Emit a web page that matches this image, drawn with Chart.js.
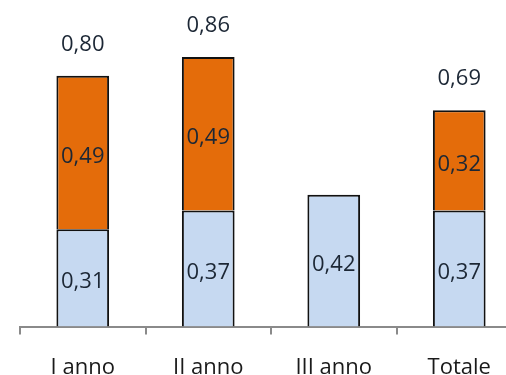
<!DOCTYPE html>
<html>
<head>
<meta charset="utf-8">
<script src="https://cdn.jsdelivr.net/npm/chart.js@4/dist/chart.umd.min.js"></script>
<style>
  html, body { margin: 0; padding: 0; background: #fff; overflow: hidden; }
  #wrap { position: relative; width: 530px; height: 375px; }
</style>
</head>
<body>
<div id="wrap"><canvas id="c"></canvas></div>
<script>
// Categories and stacked series
const categories = ['I anno', 'II anno', 'III anno', 'Totale'];
const baseValues = [0.31, 0.37, 0.42, 0.37];
const topValues = [0.49, 0.49, null, 0.32];

const fmt = v => v.toFixed(2).replace('.', ',');
const LABEL_FONT = '22px "Open Sans", sans-serif';

// Writes segment values inside the bars and stack totals above them
const valueLabels = {
  id: 'valueLabels',
  afterDatasetsDraw(chart) {
    const ctx = chart.ctx;
    ctx.save();
    ctx.font = LABEL_FONT;
    ctx.fillStyle = '#1c2735';
    ctx.textAlign = 'center';
    ctx.textBaseline = 'middle';
    chart.data.datasets.forEach((ds, di) => {
      const meta = chart.getDatasetMeta(di);
      meta.data.forEach((bar, i) => {
        const v = ds.data[i];
        if (v == null) return;
        const { x, y, base } = bar.getProps(['x', 'y', 'base'], true);
        ctx.fillText(fmt(v), x, (y + base) / 2 + 4);
      });
    });
    const yScale = chart.scales.y;
    const topMeta = chart.getDatasetMeta(1);
    categories.forEach((c, i) => {
      if (topValues[i] == null) return;
      const total = baseValues[i] + topValues[i];
      const x = topMeta.data[i].x;
      ctx.fillText(fmt(total), x, yScale.getPixelForValue(total) - 31);
    });
    ctx.restore();
  }
};

new Chart(document.getElementById('c'), {
  type: 'bar',
  data: {
    labels: categories,
    datasets: [
      {
        data: baseValues,
        backgroundColor: '#c6d9f1',
        borderColor: '#111',
        borderWidth: 2,
        barPercentage: 0.42,
        categoryPercentage: 1
      },
      {
        data: topValues,
        backgroundColor: '#e46c0a',
        borderColor: '#111',
        borderWidth: 2,
        barPercentage: 0.42,
        categoryPercentage: 1
      }
    ]
  },
  options: {
    responsive: true,
    maintainAspectRatio: false,
    animation: false,
    layout: { padding: { left: 20, right: 8, top: 13, bottom: 0 } },
    plugins: { legend: { display: false }, tooltip: { enabled: false } },
    scales: {
      x: {
        stacked: true,
        grid: {
          offset: true,
          drawOnChartArea: false,
          drawTicks: true,
          tickLength: 8,
          color: '#8a8a8a',
          lineWidth: 2
        },
        border: { display: true, color: '#8a8a8a', width: 2 },
        ticks: {
          color: '#1a1a1a',
          font: { family: '"Open Sans", sans-serif', size: 22 },
          padding: 20,
          maxRotation: 0
        },
        afterFit(axis) { axis.height = 48.5; }
      },
      y: {
        stacked: true,
        display: false,
        min: 0,
        max: 1
      }
    }
  },
  plugins: [valueLabels]
});
</script>
</body>
</html>
